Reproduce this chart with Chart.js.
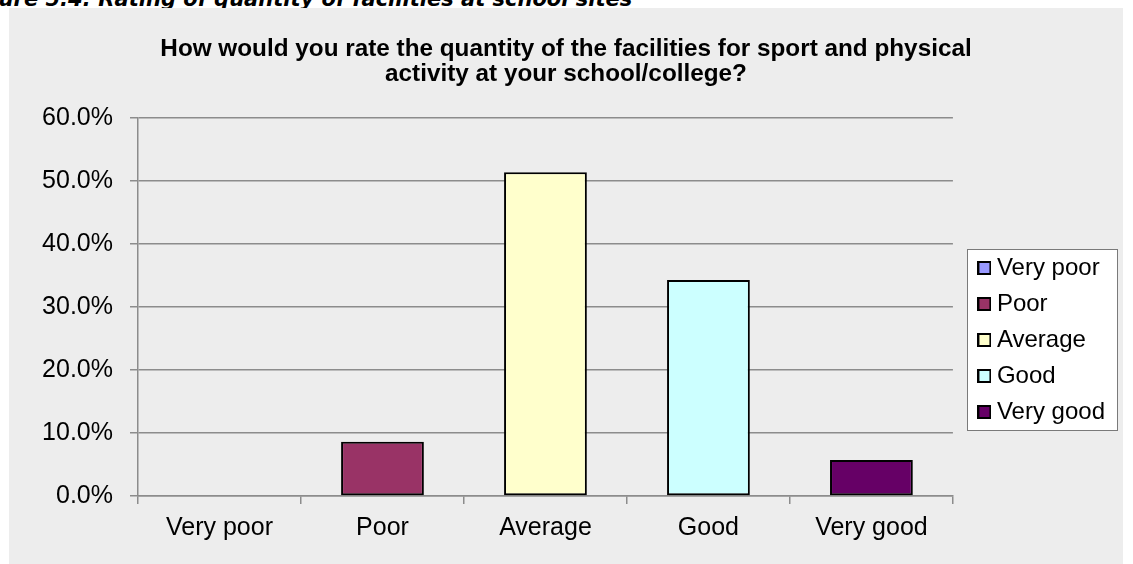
<!DOCTYPE html>
<html>
<head>
<meta charset="utf-8">
<script src="https://cdn.jsdelivr.net/npm/chart.js@4.4.0/dist/chart.umd.min.js"></script>
<style>
    html, body { margin: 0; padding: 0; background: #fff; overflow: hidden; }
    body { width: 1133px; height: 564px; position: relative; }
    #caption {
        position: absolute; top: -11px; left: 0;
        font: italic bold 21px "DejaVu Sans", sans-serif;
        line-height: 21px; white-space: nowrap; color: #000;
    }
    #chartBox {
        position: absolute; left: 9px; top: 8px; width: 1114px; height: 556px;
        background: #ededed;
    }
</style>
</head>
<body>
<div id="caption"><span id="capHidden">Fig</span>ure 5.4: Rating of quantity of facilities at school sites</div>
<div id="chartBox"><canvas id="ratingChart" width="1114" height="556"></canvas></div>
<script>
// Survey answers (share of respondents)
const categories = ['Very poor', 'Poor', 'Average', 'Good', 'Very good'];
const percentages = [0, 8.6, 51.4, 34.3, 5.7];
const yMax = 60;
const yStep = 10;

const barColors = ['#9999ff', '#993366', '#ffffcc', '#ccffff', '#660066'];

// push the "Fig" part of the caption off the left edge
const hidden = document.getElementById('capHidden');
document.getElementById('caption').style.left = (-hidden.offsetWidth - 1) + 'px';

// little square swatches with a black edge for the legend
function swatch(color) {
    const c = document.createElement('canvas');
    c.width = 14;
    c.height = 14;
    const g = c.getContext('2d');
    g.fillStyle = '#000';
    g.fillRect(0, 0, 14, 14);
    g.fillStyle = color;
    g.fillRect(2, 2, 10, 10);
    return c;
}
const swatches = barColors.map(swatch);

// move the legend next to the plot, and keep the title centred on the whole box
const legendShift = { x: 19, y: 54 };
const rightPad = 27;
const legendPlace = {
    id: 'legendPlace',
    afterLayout(chart) {
        const lg = chart.legend;
        lg.left += legendShift.x;
        lg.right += legendShift.x;
        lg.top += legendShift.y;
        lg.bottom += legendShift.y;
        const tb = chart.titleBlock;
        if (tb) {
            tb.left += rightPad / 2;
            tb.right += rightPad / 2;
        }
    }
};

// white framed box behind the legend
const legendFrame = {
    id: 'legendFrame',
    beforeDraw(chart) {
        const hb = chart.legend.legendHitBoxes;
        if (!hb || !hb.length) return;
        const ctx = chart.ctx;
        let right = -Infinity;
        hb.forEach(b => { right = Math.max(right, b.left + b.width); });
        const left = hb[0].left - 17;
        const first = hb[0].top + hb[0].height / 2;
        const last = hb[hb.length - 1].top + hb[hb.length - 1].height / 2;
        const top = Math.round(first - 19) + 0.5;
        const bottom = Math.round(last + 18) + 0.5;
        const l = Math.round(left) + 0.5;
        const r = Math.round(right + 12) + 0.5;
        ctx.save();
        ctx.fillStyle = '#ffffff';
        ctx.strokeStyle = '#7a7a7a';
        ctx.lineWidth = 1;
        ctx.fillRect(l, top, r - l, bottom - top);
        ctx.strokeRect(l, top, r - l, bottom - top);
        ctx.restore();
    }
};

const ctx = document.getElementById('ratingChart').getContext('2d');
const ratingChart = new Chart(ctx, {
    type: 'bar',
    data: {
        labels: categories,
        datasets: [{
            label: 'Rating',
            data: percentages,
            backgroundColor: barColors,
            borderColor: '#000000',
            borderWidth: 2,
            borderSkipped: false,
            categoryPercentage: 1,
            barPercentage: 0.508
        }]
    },
    options: {
        responsive: false,
        animation: false,
        layout: { padding: { left: 0, right: rightPad, top: 0, bottom: 0 } },
        plugins: {
            title: {
                display: true,
                text: ['How would you rate the quantity of the facilities for sport and physical',
                       'activity at your school/college?'],
                color: '#000',
                font: { family: 'Liberation Sans', size: 24.3, weight: 'bold', lineHeight: 25 / 24.3 },
                padding: { top: 29, bottom: 31 }
            },
            legend: {
                position: 'right',
                labels: {
                    color: '#000',
                    font: { family: 'Liberation Sans', size: 24 },
                    usePointStyle: true,
                    pointStyleWidth: 1,
                    boxHeight: 14,
                    padding: 12,
                    generateLabels: () => categories.map((c, i) => ({
                        text: c,
                        fillStyle: barColors[i],
                        strokeStyle: '#000',
                        lineWidth: 0,
                        pointStyle: swatches[i],
                        hidden: false,
                        index: i
                    }))
                }
            },
            tooltip: { enabled: false }
        },
        scales: {
            x: {
                grid: {
                    offset: true,
                    drawOnChartArea: false,
                    drawTicks: true,
                    tickLength: 8,
                    color: '#8c8c8c',
                    lineWidth: 1.5
                },
                border: { color: '#8c8c8c', width: 1.5 },
                ticks: {
                    color: '#000',
                    font: { family: 'Liberation Sans', size: 25 },
                    padding: 9,
                    maxRotation: 0
                },
                afterFit(scale) { scale.height = 68; }
            },
            y: {
                min: 0,
                max: yMax,
                grid: {
                    color: '#8c8c8c',
                    lineWidth: 1.5,
                    tickLength: 8
                },
                border: { color: '#8c8c8c', width: 1.5 },
                ticks: {
                    stepSize: yStep,
                    color: '#000',
                    font: { family: 'Liberation Sans', size: 25 },
                    padding: 17,
                    callback: v => v.toFixed(1) + '%'
                },
                afterFit(scale) { scale.width = 129; }
            }
        }
    },
    plugins: [legendPlace, legendFrame]
});
</script>
</body>
</html>
